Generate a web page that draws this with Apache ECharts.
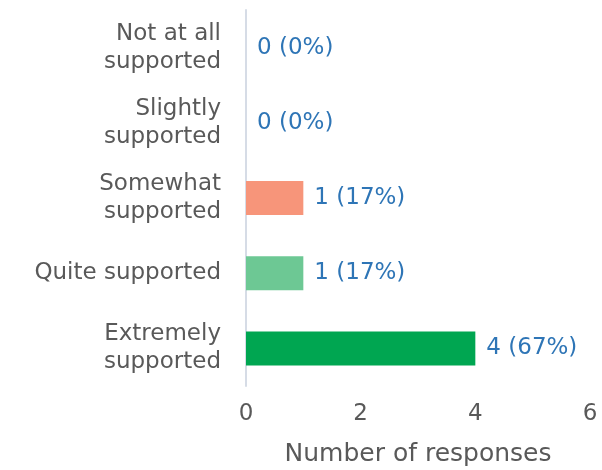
<!DOCTYPE html>
<html>
<head>
<meta charset="utf-8">
<script src="https://cdn.jsdelivr.net/npm/echarts@6/dist/echarts.min.js"></script>
<style>html,body{margin:0;padding:0;background:#fff}#c{width:602px;height:470px}</style>
</head>
<body>
<div id="c"></div>
<script>
const categories = ["Not at all\nsupported", "Slightly\nsupported", "Somewhat\nsupported", "Quite supported", "Extremely\nsupported"];
const counts = [0, 0, 1, 1, 4];
const percents = [0, 0, 17, 17, 67];
const barColors = ["#F4956F", "#F4956F", "#F7957A", "#6DC894", "#00A651"];
const xTicks = [0, 2, 4, 6];

const chart = echarts.init(document.getElementById('c'), null, {renderer: 'canvas'});
const font = "'DejaVu Sans', sans-serif";
chart.setOption({
  animation: false,
  grid: {left: 246, right: 12, top: 10, bottom: 84, containLabel: false, outerBoundsMode: 'none'},
  xAxis: {
    type: 'value', min: xTicks[0], max: xTicks[xTicks.length - 1], interval: 2,
    axisLine: {show: false}, axisTick: {show: false}, splitLine: {show: false},
    axisLabel: {color: '#595959', fontSize: 23, fontFamily: font, margin: 17},
    name: 'Number of responses', nameLocation: 'middle', nameGap: 56,
    nameTextStyle: {color: '#595959', fontSize: 25, fontFamily: font}
  },
  yAxis: {
    type: 'category', data: categories, inverse: true,
    axisLine: {show: true, lineStyle: {color: '#D6DCE6', width: 2}},
    axisTick: {show: false},
    axisLabel: {color: '#595959', fontSize: 23, fontFamily: font, margin: 25, lineHeight: 28, align: 'right'}
  },
  series: [{
    type: 'bar',
    barWidth: 34,
    data: counts.map((v, i) => ({value: v, itemStyle: {color: barColors[i]}})),
    label: {
      show: true, position: 'right', distance: 11,
      color: '#2E75B6', fontSize: 23, fontFamily: font,
      formatter: p => counts[p.dataIndex] + ' (' + percents[p.dataIndex] + '%)'
    }
  }]
});
</script>
</body>
</html>
